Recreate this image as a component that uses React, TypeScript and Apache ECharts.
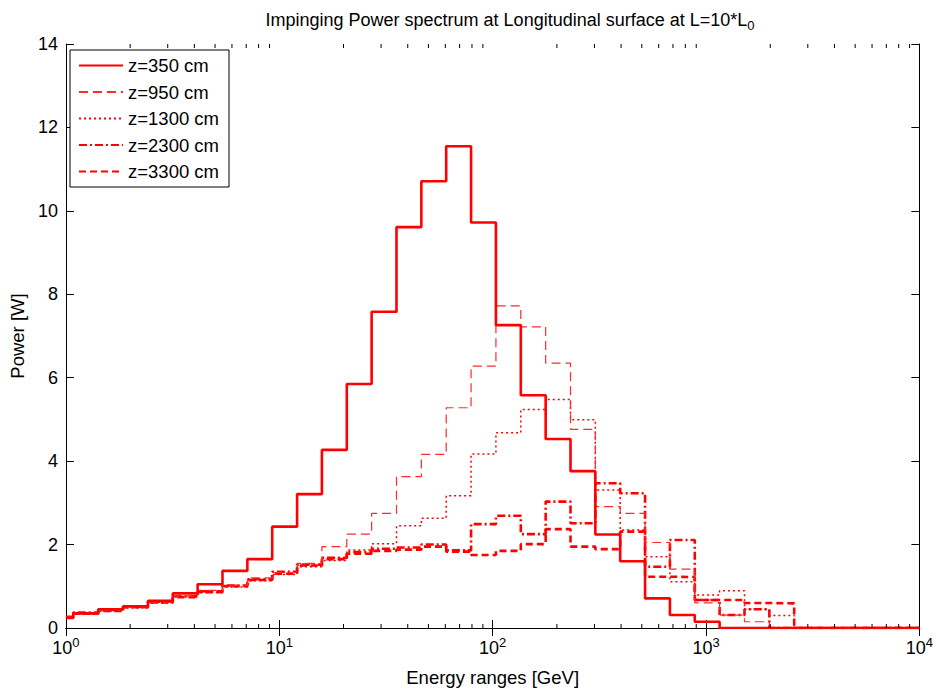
import React, { useEffect, useRef } from "react";
import * as echarts from "echarts";

// Bin edges (GeV), log-spaced histogram bins
const binEdges = [
  1, 1.083, 1.417, 1.853, 2.423, 3.168, 4.143, 5.417, 7.085, 9.265, 12.12,
  15.84, 20.72, 27.09, 35.43, 46.33, 60.58, 79.22, 103.6, 135.5, 177.2,
  231.7, 302.9, 396.1, 518.0, 677.4, 885.8, 1158, 1515, 1981, 2590, 10000,
];

// Power [W] in each bin
const z350 = [
  0.24, 0.35, 0.45, 0.52, 0.65, 0.83, 1.05, 1.37, 1.65, 2.43, 3.21, 4.27,
  5.85, 7.58, 9.61, 10.71, 11.55, 9.72, 7.26, 5.58, 4.53, 3.76, 2.24, 1.6,
  0.71, 0.31, 0.15, 0, 0, 0, 0,
];
const z950 = [
  0.26, 0.36, 0.42, 0.5, 0.62, 0.77, 0.9, 1.03, 1.2, 1.33, 1.55, 1.95, 2.25,
  2.75, 3.63, 4.16, 5.28, 6.28, 7.72, 7.22, 6.35, 4.76, 2.91, 2.75, 2.05,
  1.41, 0.6, 0.31, 0.15, 0, 0,
];
const z1300 = [
  0.25, 0.33, 0.4, 0.48, 0.6, 0.75, 0.85, 0.98, 1.13, 1.28, 1.47, 1.62, 1.87,
  2.02, 2.45, 2.63, 3.17, 4.17, 4.68, 5.24, 5.48, 4.99, 3.31, 2.35, 1.71,
  1.11, 0.79, 0.89, 0.45, 0.3, 0,
];
const z2300 = [
  0.27, 0.37, 0.43, 0.51, 0.63, 0.76, 0.88, 1.02, 1.17, 1.35, 1.52, 1.68,
  1.82, 1.9, 1.93, 2.0, 1.86, 2.49, 2.69, 2.25, 3.03, 2.51, 3.47, 3.23, 1.47,
  2.11, 0.67, 0.31, 0.45, 0, 0,
];
const z3300 = [
  0.25, 0.35, 0.41, 0.5, 0.61, 0.74, 0.86, 1.0, 1.15, 1.3, 1.5, 1.65, 1.78,
  1.85, 1.88, 1.95, 1.83, 1.75, 1.85, 2.01, 2.37, 1.95, 1.89, 2.31, 1.23,
  1.22, 0.67, 0.67, 0.6, 0.59, 0,
];

const seriesNames = ["z=350 cm", "z=950 cm", "z=1300 cm", "z=2300 cm", "z=3300 cm"];
const seriesValues = [z350, z950, z1300, z2300, z3300];

const xMin = 1;
const xMax = 10000;
const yMin = 0;
const yMax = 14;
const yInterval = 2;

const FONT = "Liberation Sans, Arial, sans-serif";

function stepData(vals: number[]) {
  return binEdges.map((e, i) => [e, vals[Math.min(i, vals.length - 1)]]);
}

const styles = [
  { width: 2.6, type: "solid" as any, color: "#ff0000" },
  { width: 1.2, type: [9, 5], color: "#ff2a2a" },
  { width: 1.5, type: [2, 3], color: "#ff0000" },
  { width: 2.6, type: [8, 3, 2, 3], color: "#ff0000" },
  { width: 2.6, type: [7, 4], color: "#ff0000" },
];

export default function App() {
  const ref = useRef<HTMLDivElement>(null);
  useEffect(() => {
    if (!ref.current) return;
    const chart = echarts.init(ref.current, undefined, { renderer: "svg" });

    const minorTicks: number[][] = [];
    for (let d = 1; d < xMax; d *= 10) {
      for (let m = 2; m <= 9; m++) minorTicks.push([m * d, 0]);
    }

    const lineSeries = seriesNames.map((name, i) => ({
      name,
      type: "line",
      step: "end",
      symbol: "none",
      data: stepData(seriesValues[i]),
      lineStyle: { width: styles[i].width, type: styles[i].type, color: styles[i].color },
      itemStyle: { color: styles[i].color },
      z: 10 - i,
    }));

    const option: any = {
      animation: false,
      backgroundColor: "#ffffff",
      title: {
        text: "Impinging Power spectrum at Longitudinal surface at L=10*L{sub|0}",
        left: 505,
        textAlign: "center",
        top: 2,
        textStyle: {
          fontFamily: FONT,
          fontSize: 18,
          fontWeight: "normal",
          color: "#000",
          rich: {
            sub: { fontSize: 13, fontFamily: FONT, color: "#000", padding: [12, 0, 0, 0] },
          },
        },
      },
      legend: {
        data: seriesNames,
        orient: "vertical",
        left: 70,
        top: 50,
        backgroundColor: "#ffffff",
        borderColor: "#000",
        borderWidth: 1,
        borderRadius: 0,
        padding: [6, 10, 6, 8],
        itemWidth: 44,
        itemHeight: 14,
        itemGap: 7.5,
        itemStyle: { opacity: 0 },
        textStyle: { fontFamily: FONT, fontSize: 18.5, color: "#000" },
      },
      grid: { left: 61, right: 11, top: 44, bottom: 65, containLabel: false },
      xAxis: [
        {
          type: "log",
          logBase: 10,
          min: xMin,
          max: xMax,
          position: "bottom",
          name: "Energy ranges [GeV]",
          nameLocation: "middle",
          nameGap: 40,
          nameTextStyle: { fontFamily: FONT, fontSize: 18.5, color: "#000" },
          axisLine: { lineStyle: { color: "#000", width: 1 } },
          axisTick: { inside: true, length: 8, lineStyle: { color: "#000" } },
          splitLine: { show: false },
          axisLabel: {
            margin: 8,
            formatter: (v: number) => "10{sup|" + Math.round(Math.log10(v)) + "}",
            fontFamily: FONT,
            fontSize: 18,
            color: "#000",
            rich: {
              sup: { fontSize: 13, fontFamily: FONT, color: "#000", padding: [0, 0, 10, 0] },
            },
          },
        },
        {
          type: "log",
          logBase: 10,
          min: xMin,
          max: xMax,
          position: "top",
          axisLine: { lineStyle: { color: "#000", width: 1 } },
          axisTick: { inside: true, length: 8, lineStyle: { color: "#000" } },
          axisLabel: { show: false },
          splitLine: { show: false },
        },
      ],
      yAxis: [
        {
          type: "value",
          min: yMin,
          max: yMax,
          interval: yInterval,
          position: "left",
          name: "Power [W]",
          nameLocation: "middle",
          nameGap: 36,
          nameTextStyle: { fontFamily: FONT, fontSize: 18.5, color: "#000" },
          axisLine: { show: true, lineStyle: { color: "#000", width: 1 } },
          axisTick: { show: true, inside: true, length: 8, lineStyle: { color: "#000" } },
          splitLine: { show: false },
          axisLabel: { margin: 8, fontFamily: FONT, fontSize: 18, color: "#000" },
        },
        {
          type: "value",
          min: yMin,
          max: yMax,
          interval: yInterval,
          position: "right",
          axisLine: { show: true, lineStyle: { color: "#000", width: 1 } },
          axisTick: { show: true, inside: true, length: 8, lineStyle: { color: "#000" } },
          splitLine: { show: false },
          axisLabel: { show: false },
        },
      ],
      series: [
        ...lineSeries,
        {
          name: "minorTicks",
          type: "custom",
          silent: true,
          z: 20,
          xAxisIndex: 0,
          yAxisIndex: 0,
          data: minorTicks,
          encode: { x: 0, y: 1 },
          renderItem: (params: any, api: any) => {
            const x = api.value(0);
            const pb = api.coord([x, yMin]);
            const pt = api.coord([x, yMax]);
            const st = { stroke: "#000", lineWidth: 1 };
            return {
              type: "group",
              children: [
                { type: "line", shape: { x1: pb[0], y1: pb[1], x2: pb[0], y2: pb[1] - 4 }, style: st },
                { type: "line", shape: { x1: pt[0], y1: pt[1], x2: pt[0], y2: pt[1] + 4 }, style: st },
              ],
            };
          },
        },
      ],
    };
    chart.setOption(option);
    return () => chart.dispose();
  }, []);
  return (
    <div
      ref={ref}
      style={{ position: "fixed", left: 0, top: 0, width: 936, height: 693, background: "#fff" }}
    />
  );
}
